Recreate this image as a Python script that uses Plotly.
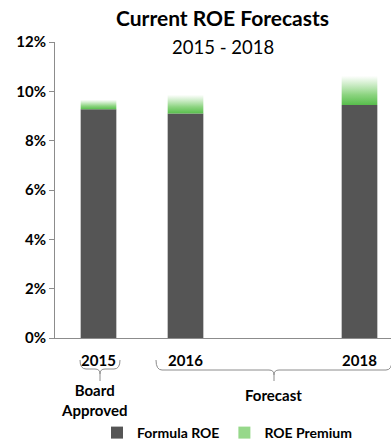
import plotly.graph_objects as go

# ---- data ----
years = [2015, 2016, 2018]
tick_labels = ["2015", "2016", "2018"]
formula_roe = [9.27, 9.10, 9.45]   # %
roe_premium = [0.39, 0.76, 1.18]   # %
y_ticks = [0, 2, 4, 6, 8, 10, 12]

DARK = "#555555"
GREEN = "rgb(88,190,76)"
FONT = "Lato"
BAR_W = 0.41

# plot-area pixel geometry (for decorations outside the plot area)
L, R, T, B = 55, 391, 42, 338
def X(px):
    return (px - L) / (R - L)
def Y(py):
    return (B - py) / (B - T)

fig = go.Figure()
fig.add_trace(go.Bar(x=years, y=formula_roe, width=BAR_W, name="<b>Formula ROE</b>",
                     marker=dict(color=DARK, line=dict(width=0)), legendrank=1))

for i, (yr, f, p) in enumerate(zip(years, formula_roe, roe_premium)):
    xs = [yr - BAR_W / 2, yr + BAR_W / 2, yr + BAR_W / 2, yr - BAR_W / 2, yr - BAR_W / 2]
    ys = [f, f, f + p, f + p, f]
    fig.add_trace(go.Scatter(
        x=xs, y=ys, mode="lines", line=dict(width=0, color=GREEN), fill="toself",
        fillgradient=dict(type="vertical",
                          colorscale=[[0, GREEN], [0.35, "rgb(140,212,128)"], [1, "rgba(255,255,255,0.9)"]]),
        showlegend=False, hoverinfo="skip"))

# legend entry for the premium (zero-height bar so only the swatch shows)
fig.add_trace(go.Bar(x=[years[0]], y=[0], width=BAR_W, name="<b>ROE Premium</b>",
                     marker=dict(color="rgb(150,216,138)", line=dict(width=0)),
                     hoverinfo="skip", legendrank=2))

# braces
gray = "#8c8c8c"
def brace(x0, x1, ytop, ymid, ytip, r=6):
    c = (x0 + x1) / 2
    pts = [
        f"M {X(x0)},{Y(ytop)}",
        f"Q {X(x0)},{Y(ymid)} {X(x0 + r)},{Y(ymid)}",
        f"L {X(c - 5)},{Y(ymid)}",
        f"Q {X(c)},{Y(ymid)} {X(c)},{Y(ymid + 5)}",
        f"L {X(c)},{Y(ytip)}",
        f"M {X(c)},{Y(ymid + 5)}",
        f"Q {X(c)},{Y(ymid)} {X(c + 5)},{Y(ymid)}",
        f"L {X(x1 - r)},{Y(ymid)}",
        f"Q {X(x1)},{Y(ymid)} {X(x1)},{Y(ytop)}",
    ]
    return dict(type="path", xref="paper", yref="paper", path=" ".join(pts),
                line=dict(color=gray, width=1))

shapes = [brace(80, 120, 360, 369, 381), brace(156, 392, 360, 370, 381)]

annotations = [
    dict(text="<b>Current ROE Forecasts</b>", x=X(222), y=Y(18), xref="paper", yref="paper",
         showarrow=False, font=dict(family=FONT, size=21, color="black"), xanchor="center", yanchor="middle"),
    dict(text="2015 - 2018", x=X(223), y=Y(47), xref="paper", yref="paper",
         showarrow=False, font=dict(family=FONT, size=18.5, color="black"), xanchor="center", yanchor="middle"),
    dict(text="<b>Board<br>Approved</b>", x=X(94), y=Y(400), xref="paper", yref="paper",
         showarrow=False, font=dict(family=FONT, size=15, color="black"), xanchor="center", yanchor="middle"),
    dict(text="<b>Forecast</b>", x=X(273), y=Y(395), xref="paper", yref="paper",
         showarrow=False, font=dict(family=FONT, size=15, color="black"), xanchor="center", yanchor="middle"),
]

fig.update_layout(
    width=391, height=442,
    margin=dict(l=L, r=391 - R, t=T, b=442 - B, pad=0, autoexpand=False),
    paper_bgcolor="white", plot_bgcolor="white",
    barmode="overlay",
    showlegend=True,
    legend=dict(orientation="h", x=X(227), y=Y(433), xanchor="center", yanchor="middle",
                font=dict(family=FONT, size=14, color="black"), traceorder="normal",
                itemwidth=30, tracegroupgap=0),
    shapes=shapes, annotations=annotations,
    font=dict(family=FONT, color="black"),
)
fig.update_xaxes(range=[2014.5, 2014.5 + (R - L) / 87], tickvals=years,
                 ticktext=[f"<b>{t}</b>" for t in tick_labels],
                 tickfont=dict(family=FONT, size=15, color="black"),
                 ticks="outside", ticklen=9, tickcolor="rgba(0,0,0,0)",
                 showline=True, linecolor=gray, linewidth=1, showgrid=False, zeroline=False)
fig.update_yaxes(range=[0, 12], tickvals=y_ticks, ticktext=[f"<b>{v}%</b>" for v in y_ticks],
                 tickfont=dict(family=FONT, size=15, color="black"),
                 ticks="outside", ticklen=5, tickcolor=gray,
                 showline=True, linecolor=gray, linewidth=1, showgrid=False, zeroline=False)

fig.write_html("out.html")
